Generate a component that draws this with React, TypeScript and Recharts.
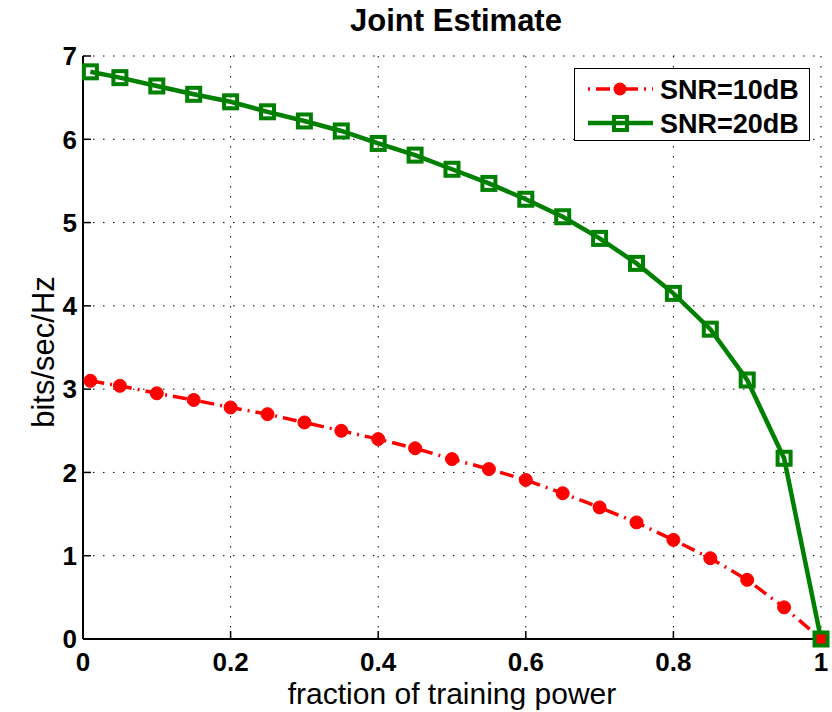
import React from 'react';
import { LineChart, Line, XAxis, YAxis, CartesianGrid, Legend } from 'recharts';

const xValues = [0.01, 0.05, 0.1, 0.15, 0.2, 0.25, 0.3, 0.35, 0.4, 0.45, 0.5, 0.55, 0.6, 0.65, 0.7, 0.75, 0.8, 0.85, 0.9, 0.95, 1.0];
const snr10 = [3.1, 3.04, 2.95, 2.87, 2.78, 2.7, 2.6, 2.5, 2.4, 2.29, 2.16, 2.04, 1.91, 1.75, 1.58, 1.4, 1.19, 0.97, 0.71, 0.38, 0];
const snr20 = [6.81, 6.74, 6.64, 6.54, 6.45, 6.33, 6.22, 6.1, 5.95, 5.81, 5.64, 5.47, 5.28, 5.07, 4.81, 4.51, 4.15, 3.72, 3.11, 2.17, 0];
const xTicks = [0, 0.2, 0.4, 0.6, 0.8, 1];
const yTicks = [0, 1, 2, 3, 4, 5, 6, 7];
const seriesNames = ['SNR=10dB', 'SNR=20dB'];
const title = 'Joint Estimate';
const xLabel = 'fraction of training power';
const yLabel = 'bits/sec/Hz';

const data = xValues.map((x, i) => ({ x, snr10: snr10[i], snr20: snr20[i] }));

const FONT = '"Liberation Sans", Arial, Helvetica, sans-serif';
const RED = '#ff0000';
const GREEN = '#008000';

const tickStyle = { fontFamily: FONT, fontWeight: 'bold' as const, fontSize: 26, fill: '#000' };

const fmt = (v: number) => String(v);

const SquareDot = (p: any) => {
  if (p.cx == null || p.cy == null) return <g key={`sq-${p.index}`} />;
  return (
    <rect key={`sq-${p.index}`} x={p.cx - 6.5} y={p.cy - 6.5} width={13} height={13} fill="none" stroke={GREEN} strokeWidth={4} />
  );
};

const CircleDot = (p: any) => {
  if (p.cx == null || p.cy == null) return <g key={`c-${p.index}`} />;
  return <circle key={`c-${p.index}`} cx={p.cx} cy={p.cy} r={6.5} fill={RED} stroke={RED} strokeWidth={1} />;
};

const LegendBox = () => (
  <div style={{ width: 236, height: 73, border: '1.5px solid #000', background: '#fff', boxSizing: 'border-box' }}>
    <svg width={233} height={70} style={{ display: 'block' }}>
      <line x1={13} y1={20} x2={78} y2={20} stroke={RED} strokeWidth={3.5} strokeDasharray="2 6 14 6" />
      <circle cx={45} cy={20} r={6.5} fill={RED} />
      <text x={85} y={20} dy="0.36em" style={{ fontFamily: FONT, fontWeight: 'bold', fontSize: 27 }} fill="#000">{seriesNames[0]}</text>
      <line x1={13} y1={54} x2={78} y2={54} stroke={GREEN} strokeWidth={4.5} />
      <rect x={39} y={48} width={13} height={13} fill="none" stroke={GREEN} strokeWidth={4} />
      <text x={85} y={54} dy="0.36em" style={{ fontFamily: FONT, fontWeight: 'bold', fontSize: 27 }} fill="#000">{seriesNames[1]}</text>
    </svg>
  </div>
);

export default function App() {
  return (
    <div style={{ position: 'absolute', left: 0, top: 0, width: 832, height: 712, background: '#fff' }}>
      <div style={{ position: 'absolute', left: 0, top: 5, width: 912, textAlign: 'center', fontFamily: FONT, fontWeight: 'bold', fontSize: 31, lineHeight: '31px', color: '#000' }}>
        {title}
      </div>
      <div style={{ position: 'absolute', left: 83, top: 679, width: 738, textAlign: 'center', fontFamily: FONT, fontSize: 30, lineHeight: '30px', color: '#000' }}>
        {xLabel}
      </div>
      <div
        style={{
          position: 'absolute', left: 44, top: 352, width: 300, height: 32, marginLeft: -150, marginTop: -16,
          textAlign: 'center', fontFamily: FONT, fontSize: 31, lineHeight: '32px', color: '#000', transform: 'rotate(-90deg)'
        }}
      >
        {yLabel}
      </div>
      <LineChart width={832} height={712} data={data} margin={{ top: 56, right: 11, bottom: 43, left: 23 }} style={{ position: 'absolute', left: 0, top: 0 }}>
        <CartesianGrid stroke="#000" strokeDasharray="1.5 8.5" strokeWidth={1} horizontalValues={yTicks} verticalValues={xTicks} />
        <XAxis dataKey="x" type="number" domain={[0, 1]} ticks={xTicks} tickFormatter={fmt} height={30}
          axisLine={{ stroke: '#000', strokeWidth: 2 }} tickLine={{ stroke: '#000', strokeWidth: 1.5 }} tickSize={-8} tickMargin={22} tick={tickStyle} />
        <XAxis xAxisId="top" orientation="top" dataKey="x" type="number" domain={[0, 1]} ticks={xTicks} tickFormatter={() => ''} height={0}
          axisLine={{ stroke: '#000', strokeWidth: 2 }} tickLine={{ stroke: '#000', strokeWidth: 1.5 }} tickSize={-8} />
        <YAxis type="number" domain={[0, 7]} ticks={yTicks} width={60}
          axisLine={{ stroke: '#000', strokeWidth: 2 }} tickLine={{ stroke: '#000', strokeWidth: 1.5 }} tickSize={-8} tickMargin={14} tick={tickStyle} />
        <YAxis yAxisId="right" orientation="right" type="number" domain={[0, 7]} ticks={yTicks} width={0} tickFormatter={() => ''}
          axisLine={{ stroke: '#000', strokeWidth: 2 }} tickLine={{ stroke: '#000', strokeWidth: 1.5 }} tickSize={-8} />
        <Line dataKey="snr10" name={seriesNames[0]} stroke={RED} strokeWidth={3.5} strokeDasharray="14 6 2 6" dot={CircleDot} activeDot={false} isAnimationActive={false} />
        <Line dataKey="snr20" name={seriesNames[1]} stroke={GREEN} strokeWidth={4.5} dot={SquareDot} activeDot={false} isAnimationActive={false} />
        <Legend layout="vertical" align="center" verticalAlign="middle" content={LegendBox}
          wrapperStyle={{ position: 'absolute', left: 574, top: 68, width: 236, height: 73 }} />
      </LineChart>
    </div>
  );
}
